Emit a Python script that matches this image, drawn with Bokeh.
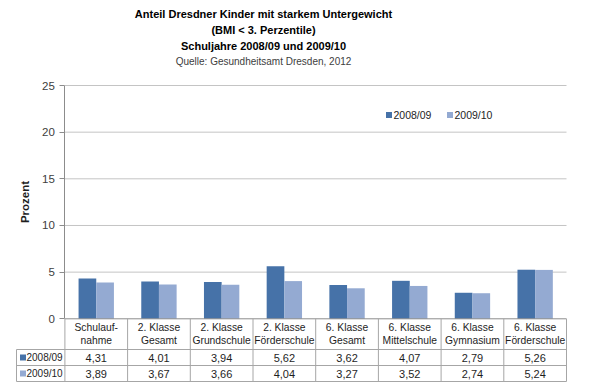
import numpy as np
from bokeh.plotting import figure
from bokeh.models import Range1d, FixedTicker
from bokeh.core.properties import value
from bokeh.embed import file_html
from bokeh.resources import INLINE

# ---------------- data ----------------
title_lines = ["Anteil Dresdner Kinder mit starkem Untergewicht",
               "(BMI < 3. Perzentile)",
               "Schuljahre 2008/09 und 2009/10"]
source_line = "Quelle: Gesundheitsamt Dresden, 2012"
categories = ["Schulauf-\nnahme", "2. Klasse\nGesamt", "2. Klasse\nGrundschule",
              "2. Klasse\nFörderschule", "6. Klasse\nGesamt", "6. Klasse\nMittelschule",
              "6. Klasse\nGymnasium", "6. Klasse\nFörderschule"]
series_names = ["2008/09", "2009/10"]
values_0809 = [4.31, 4.01, 3.94, 5.62, 3.62, 4.07, 2.79, 5.26]
values_0910 = [3.89, 3.67, 3.66, 4.04, 3.27, 3.52, 2.74, 5.24]
y_ticks = [0, 5, 10, 15, 20, 25]
y_label = "Prozent"

# ---------------- styles ----------------
colors = ["#4672A8", "#94AAD2"]
FONT = "Liberation Sans"
GRID = "#C4C4C4"
AXIS = "#8C8C8C"
TABLE = "#A6A6A6"
TXT = "#1E1E1E"

W, H = 592, 382
X0_PAGE, X_UNIT = 64.4, 62.7      # px of x=0, px per category
Y0_PAGE, Y_UNIT = 318.3, 9.332    # px of y=0, px per percent


def px(xp):
    return (xp - X0_PAGE) / X_UNIT


def py(yp):
    return (Y0_PAGE - yp) / Y_UNIT


n = len(categories)
centers = np.arange(n) + 0.5
bw = 0.282

p = figure(width=W, height=H, output_backend="svg", toolbar_location=None,
           x_range=Range1d(px(0), px(W)), y_range=Range1d(py(H), py(0)),
           x_axis_location=None, min_border=0, outline_line_color=None)
p.xgrid.visible = False
p.ygrid.visible = False

ax = p.yaxis[0]
ax.fixed_location = 0
ax.bounds = (y_ticks[0], y_ticks[-1])
ax.ticker = FixedTicker(ticks=y_ticks)
ax.axis_line_color = AXIS
ax.major_tick_line_color = AXIS
ax.major_tick_out = 5
ax.major_tick_in = 0
ax.minor_tick_out = 0
ax.minor_tick_in = 0
ax.major_label_standoff = 5
ax.major_label_text_font = FONT
ax.major_label_text_font_size = "11.5px"
ax.major_label_text_color = "#404040"
ax.axis_label = y_label
ax.axis_label_text_font = FONT
ax.axis_label_text_font_style = "bold"
ax.axis_label_text_font_size = "11.5px"
ax.axis_label_text_color = TXT
ax.axis_label_standoff = 8

# gridlines
gy = y_ticks[1:]
p.segment(x0=[0] * len(gy), x1=[n] * len(gy), y0=gy, y1=gy, line_color=GRID, line_width=1)

# bars
p.vbar(x=centers - bw / 2, top=values_0809, width=bw, color=colors[0], line_width=0)
p.vbar(x=centers + bw / 2, top=values_0910, width=bw, color=colors[1], line_width=0)

# x axis / table top line
p.segment(x0=[0], x1=[n], y0=[0], y1=[0], line_color=AXIS, line_width=1)

# table grid
row_lines = [py(349.0), py(365.0), py(381.0)]
p.segment(x0=[px(16)] * 3, x1=[n] * 3, y0=row_lines, y1=row_lines, line_color=TABLE, line_width=1)
vx = list(range(n + 1))
p.segment(x0=vx, x1=vx, y0=[0] * len(vx), y1=[row_lines[-1]] * len(vx), line_color=TABLE, line_width=1)
p.segment(x0=[px(16)], x1=[px(16)], y0=[row_lines[0]], y1=[row_lines[-1]], line_color=TABLE, line_width=1)

# table header
p.text(x=centers, y=[py(333.5)] * n, text=categories, text_align="center", text_baseline="middle",
       text_font=value(FONT), text_font_size="10.3px", text_color=TXT, text_line_height=1.15)

# table values
fmt = lambda v: f"{v:.2f}".replace(".", ",")
row_y = [py(357.0), py(373.0)]
for vals, ry in zip([values_0809, values_0910], row_y):
    p.text(x=centers, y=[ry] * n, text=[fmt(v) for v in vals], text_align="center",
           text_baseline="middle", text_font=value(FONT), text_font_size="11px", text_color=TXT)

# table row labels
p.scatter(x=[px(22.5)] * 2, y=row_y, marker="square", size=6, color=colors, line_width=0)
p.text(x=[px(26)] * 2, y=row_y, text=series_names, text_align="left", text_baseline="middle",
       text_font=value(FONT), text_font_size="10px", text_color=TXT)

# legend
leg_sw = [px(388.5), px(449.5)]
leg_tx = [px(393), px(454)]
p.scatter(x=leg_sw, y=[py(114.5)] * 2, marker="square", size=6, color=colors, line_width=0)
p.text(x=leg_tx, y=[py(114.5)] * 2, text=series_names, text_align="left", text_baseline="middle",
       text_font=value(FONT), text_font_size="10.5px", text_color=TXT)

# title
tys = [py(13), py(29), py(45)]
p.text(x=[px(263)] * 3, y=tys, text=title_lines, text_align="center", text_baseline="middle",
       text_font=value(FONT), text_font_style="bold", text_font_size="11px", text_color="#000000")
p.text(x=[px(263)], y=[py(60.5)], text=[source_line], text_align="center", text_baseline="middle",
       text_font=value(FONT), text_font_size="10px", text_color="#404040")

open("out.html", "w").write(file_html(p, INLINE))
